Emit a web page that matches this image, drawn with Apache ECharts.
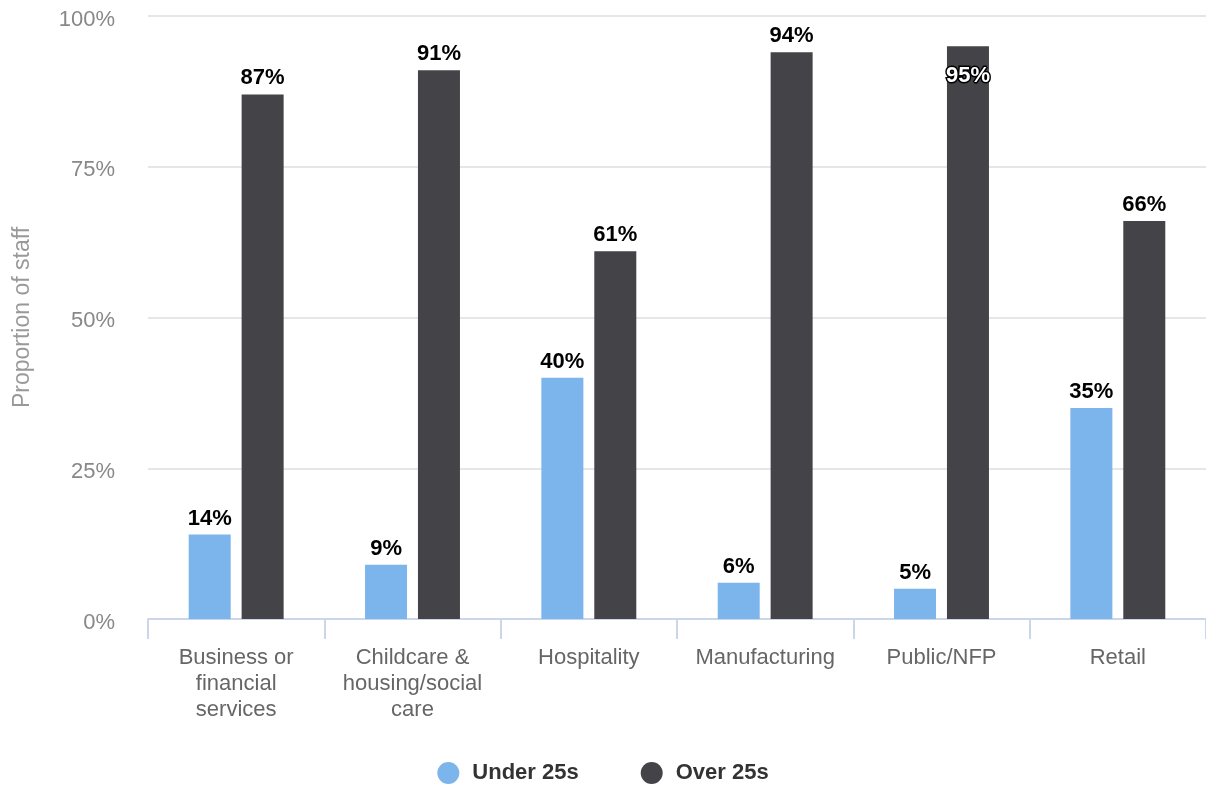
<!DOCTYPE html>
<html>
<head>
<meta charset="utf-8">
<script src="https://cdn.jsdelivr.net/npm/echarts@6/dist/echarts.min.js"></script>
<style>
  html, body { margin: 0; padding: 0; background: #fff; }
  #chart { width: 1206px; height: 785px; }
</style>
</head>
<body>
<div id="chart"></div>
<script>
// Sectors shown along the x axis
const categories = [
  'Business or\nfinancial\nservices',
  'Childcare &\nhousing/social\ncare',
  'Hospitality',
  'Manufacturing',
  'Public/NFP',
  'Retail'
];
// Share of staff in each age group (%)
const under25 = [14, 9, 40, 6, 5, 35];
const over25 = [87, 91, 61, 94, 95, 66];
const yTicks = [0, 25, 50, 75, 100];

const FONT = 'Liberation Sans, Arial, sans-serif';

const chart = echarts.init(document.getElementById('chart'), null, { renderer: 'canvas' });

const labelStyle = {
  show: true,
  position: 'top',
  distance: 5,
  formatter: p => p.value + '%',
  fontFamily: FONT,
  fontSize: 22,
  fontWeight: 'bold',
  color: '#000'
};

// The tallest bar carries its label inside the top, outlined
const over25Data = over25.map(v => {
  if (v === Math.max(...over25)) {
    return {
      value: v,
      label: {
        position: 'insideTop',
        distance: 19,
        color: '#fff',
        textBorderColor: '#000',
        textBorderWidth: 3
      }
    };
  }
  return v;
});

chart.setOption({
  animation: false,
  textStyle: { fontFamily: FONT },
  grid: {
    left: 148, right: 0, top: 16, bottom: 166,
    containLabel: false,
    outerBoundsMode: 'none'
  },
  legend: {
    top: 757,
    left: 'center',
    itemWidth: 22,
    itemHeight: 22,
    itemGap: 62,
    icon: 'circle',
    textStyle: {
      fontFamily: FONT, fontSize: 22, fontWeight: 'bold', color: '#333',
      padding: [0, 0, 0, 8]
    },
    data: ['Under 25s', 'Over 25s']
  },
  xAxis: {
    type: 'category',
    data: categories,
    axisLine: { lineStyle: { color: '#ccd6eb', width: 2 } },
    axisTick: { show: true, length: 20, lineStyle: { color: '#ccd6eb', width: 2 } },
    axisLabel: {
      fontFamily: FONT,
      fontSize: 22,
      color: '#666',
      lineHeight: 26,
      margin: 26,
      interval: 0
    }
  },
  yAxis: {
    type: 'value',
    min: yTicks[0],
    max: yTicks[yTicks.length - 1],
    interval: 25,
    name: 'Proportion of staff',
    nameLocation: 'middle',
    nameGap: 114,
    nameTextStyle: { fontFamily: FONT, fontSize: 23, color: '#999' },
    axisLine: { show: false },
    axisTick: { show: false },
    axisLabel: {
      formatter: v => '{v|' + v + '%}',
      margin: 33,
      rich: {
        v: {
          fontFamily: FONT,
          fontSize: 22,
          color: '#888',
          padding: [7, 0, 0, 0]
        }
      }
    },
    splitLine: { lineStyle: { color: '#e6e6e6', width: 2 } }
  },
  series: [
    {
      name: 'Under 25s',
      type: 'bar',
      data: under25,
      barWidth: 42,
      barGap: '26%',
      itemStyle: { color: '#7cb5ec' },
      label: labelStyle
    },
    {
      name: 'Over 25s',
      type: 'bar',
      data: over25Data,
      barWidth: 42,
      barGap: '26%',
      itemStyle: { color: '#434348' },
      label: labelStyle
    }
  ]
});
</script>
</body>
</html>
